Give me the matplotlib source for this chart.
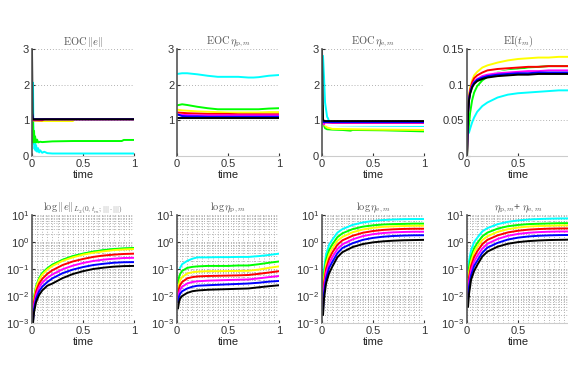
import numpy as np
import matplotlib.pyplot as plt
from matplotlib.ticker import LogLocator, NullFormatter

plt.rcParams['font.family'] = ['Liberation Sans', 'DejaVu Sans']
plt.rcParams['mathtext.fontset'] = 'cm'

nan = np.nan
colors = ['#00ffff', '#00ff00', '#ffff00', '#ff0000', '#ff00ff', '#0000ff', '#000000']

# --- EOC ||e|| (own time grid per series, jagged start) ---
eoc_e_t = [
    [0.01, 0.013, 0.016, 0.02, 0.025, 0.03, 0.035, 0.04, 0.05, 0.06, 0.07, 0.08, 0.1, 0.12, 0.15, 0.2, 0.4, 0.6, 0.8, 1.0],
    [0.0, 0.005, 0.01, 0.015, 0.02, 0.025, 0.03, 0.04, 0.05, 0.06, 0.08, 0.1, 0.2, 0.4, 0.6, 0.8, 0.88, 0.9, 1.0],
    [0.0, 0.01, 0.1, 0.4, 0.42, 1.0],
    [0.0, 0.01, 0.1, 0.12, 1.0],
    [0.0, 0.01, 1.0],
    [0.0, 0.01, 1.0],
    [0.0, 0.006, 1.0],
]
eoc_e_y = [
    [2.05, 0.9, 0.35, 0.55, 0.2, 0.4, 0.15, 0.3, 0.12, 0.22, 0.1, 0.16, 0.09, 0.12, 0.08, 0.07, 0.07, 0.07, 0.07, 0.07],
    [1.0, 0.4, 0.95, 0.38, 0.7, 0.4, 0.55, 0.38, 0.46, 0.38, 0.4, 0.39, 0.41, 0.42, 0.42, 0.42, 0.42, 0.45, 0.45],
    [1.05, 1.0, 0.98, 0.98, 1.03, 1.03],
    [1.1, 1.0, 1.0, 1.03, 1.03],
    [1.2, 1.03, 1.03],
    [1.2, 1.03, 1.03],
    [3.0, 1.03, 1.03],
]

# --- EOC eta_p ---
eoc_p_t = [0, 0.05, 0.1, 0.2, 0.3, 0.4, 0.5, 0.6, 0.7, 0.75, 0.8, 0.9, 1.0]
eoc_p_y = [
    [2.30, 2.32, 2.32, 2.29, 2.25, 2.22, 2.22, 2.22, 2.20, 2.20, 2.21, 2.25, 2.27],
    [1.42, 1.45, 1.43, 1.38, 1.34, 1.31, 1.31, 1.31, 1.31, 1.31, 1.31, 1.33, 1.34],
    [1.30, 1.28, 1.27, 1.25, 1.24, 1.23, 1.22, 1.22, 1.22, 1.22, 1.22, 1.23, 1.23],
    [1.22, 1.21, 1.20, 1.19, 1.18, 1.18, 1.18, 1.17, 1.17, 1.17, 1.17, 1.17, 1.17],
    [1.16, 1.15, 1.15, 1.14, 1.14, 1.14, 1.14, 1.14, 1.14, 1.14, 1.14, 1.14, 1.14],
    [1.17, 1.12, 1.11, 1.11, 1.10, 1.10, 1.10, 1.10, 1.10, 1.10, 1.10, 1.10, 1.10],
    [1.07, 1.07, 1.07, 1.07, 1.07, 1.07, 1.07, 1.07, 1.07, 1.07, 1.07, 1.07, 1.07],
]

# --- EOC eta_e ---
eoc_ee_t = [
    [0.01, 0.02, 0.03, 0.04, 0.05, 0.06, 0.07, 0.08, 0.1, 0.2, 0.5, 1.0],
    [0.005, 0.01, 0.02, 0.03, 0.05, 0.1, 0.2, 0.28, 0.3, 0.6, 1.0],
    [0.005, 0.02, 0.05, 0.1, 0.3, 0.6, 1.0],
    [0.0, 0.02, 1.0],
    [0.0, 0.02, 1.0],
    [0.0, 0.02, 1.0],
    [0.0, 0.01, 0.03, 1.0],
]
eoc_ee_y = [
    [2.8, 2.2, 1.5, 1.3, 1.1, 1.05, 0.95, 0.9, 0.87, 0.86, 0.85, 0.84],
    [1.4, 1.0, 0.85, 0.78, 0.75, 0.74, 0.73, 0.71, 0.73, 0.72, 0.69],
    [0.95, 0.88, 0.8, 0.76, 0.75, 0.74, 0.73],
    [0.95, 0.92, 0.92],
    [0.92, 0.89, 0.89],
    [0.97, 0.95, 0.95],
    [3.0, 1.0, 0.98, 0.98],
]
eoc_ee_white_t = [0.04, 0.1, 0.3, 0.5, 1.0]
eoc_ee_white_y = [0.88, 0.87, 0.87, 0.87, 0.87]

# --- EI(t_m) ---
ei_t = [0, 0.01, 0.02, 0.03, 0.05, 0.07, 0.1, 0.15, 0.2, 0.3, 0.4, 0.5, 0.6, 0.7, 0.8, 0.9, 1.0]
ei_y = [
    [nan, nan, 0.033, 0.038, 0.047, 0.054, 0.062, 0.07, 0.075, 0.082, 0.086, 0.088, 0.089, 0.09, 0.091, 0.092, 0.092],
    [0.0, 0.03, 0.045, 0.06, 0.078, 0.089, 0.098, 0.106, 0.111, 0.117, 0.12, 0.122, 0.124, 0.125, 0.126, 0.126, 0.126],
    [0.0, 0.065, 0.085, 0.095, 0.106, 0.113, 0.118, 0.124, 0.127, 0.131, 0.134, 0.136, 0.137, 0.138, 0.138, 0.139, 0.139],
    [0.0, 0.062, 0.082, 0.092, 0.103, 0.109, 0.113, 0.117, 0.12, 0.122, 0.123, 0.124, 0.125, 0.125, 0.126, 0.126, 0.126],
    [0.0, 0.06, 0.08, 0.089, 0.099, 0.104, 0.108, 0.112, 0.114, 0.116, 0.117, 0.118, 0.119, 0.119, 0.12, 0.12, 0.12],
    [0.0, 0.06, 0.079, 0.088, 0.098, 0.103, 0.107, 0.11, 0.112, 0.114, 0.115, 0.116, 0.116, 0.117, 0.117, 0.117, 0.117],
    [0.0, 0.06, 0.078, 0.087, 0.096, 0.101, 0.105, 0.108, 0.11, 0.112, 0.113, 0.114, 0.114, 0.115, 0.115, 0.115, 0.115],
]
ei_white_y = [nan, nan, nan, nan, nan, nan, nan, nan, 0.113, 0.117, 0.119, 0.12, 0.121, 0.121, 0.121, 0.121, 0.121]

# --- log ||e||_{L2(0,t_m)} ---
err_t = [0.01, 0.02, 0.04, 0.07, 0.1, 0.15, 0.2, 0.3, 0.4, 0.5, 0.6, 0.7, 0.8, 0.9, 1.0]
err_y = [
    [0.0025, 0.009, 0.023, 0.045, 0.069, 0.104, 0.142, 0.216, 0.295, 0.365, 0.43, 0.49, 0.54, 0.57, 0.59],
    [0.0025, 0.009, 0.023, 0.046, 0.07, 0.106, 0.145, 0.22, 0.3, 0.37, 0.44, 0.5, 0.55, 0.58, 0.6],
    [0.0022, 0.008, 0.021, 0.041, 0.062, 0.095, 0.13, 0.2, 0.27, 0.34, 0.4, 0.45, 0.5, 0.53, 0.55],
    [0.0018, 0.006, 0.015, 0.029, 0.043, 0.066, 0.09, 0.14, 0.19, 0.235, 0.28, 0.315, 0.34, 0.36, 0.37],
    [0.0015, 0.0045, 0.011, 0.021, 0.031, 0.047, 0.063, 0.098, 0.133, 0.167, 0.198, 0.222, 0.24, 0.255, 0.26],
    [0.0012, 0.0033, 0.008, 0.015, 0.022, 0.033, 0.045, 0.07, 0.095, 0.118, 0.14, 0.156, 0.17, 0.178, 0.18],
    [0.001, 0.0025, 0.006, 0.011, 0.016, 0.024, 0.029, 0.046, 0.065, 0.083, 0.1, 0.112, 0.122, 0.128, 0.13],
]

# --- log eta_p ---
etap_t = [0.01, 0.02, 0.03, 0.05, 0.1, 0.15, 0.2, 0.3, 0.4, 0.5, 0.6, 0.7, 0.8, 0.9, 1.0]
etap_y = [
    [nan, nan, 0.11, 0.15, 0.2, 0.24, 0.27, 0.27, 0.275, 0.275, 0.28, 0.28, 0.3, 0.33, 0.37],
    [0.03, 0.05, 0.065, 0.085, 0.11, 0.12, 0.125, 0.13, 0.13, 0.13, 0.135, 0.135, 0.15, 0.17, 0.19],
    [0.015, 0.028, 0.038, 0.05, 0.068, 0.076, 0.08, 0.083, 0.083, 0.084, 0.085, 0.086, 0.095, 0.11, 0.125],
    [0.01, 0.019, 0.025, 0.033, 0.045, 0.05, 0.053, 0.055, 0.056, 0.057, 0.058, 0.06, 0.066, 0.074, 0.083],
    [0.008, 0.013, 0.017, 0.022, 0.029, 0.033, 0.035, 0.037, 0.038, 0.039, 0.04, 0.041, 0.045, 0.05, 0.055],
    [0.006, 0.0095, 0.012, 0.015, 0.019, 0.022, 0.024, 0.025, 0.026, 0.027, 0.028, 0.029, 0.031, 0.034, 0.036],
    [0.0035, 0.006, 0.008, 0.01, 0.013, 0.015, 0.016, 0.017, 0.0175, 0.018, 0.0185, 0.019, 0.021, 0.023, 0.025],
]

# --- log eta_e ---
etae_t = [0.01, 0.02, 0.04, 0.07, 0.1, 0.15, 0.2, 0.3, 0.4, 0.5, 0.6, 0.7, 0.8, 0.9, 1.0]
etae_y = [
    [0.03, 0.1, 0.35, 0.8, 1.2, 2.2, 3.0, 4.3, 5.3, 6.0, 6.5, 6.8, 7.0, 7.1, 7.1],
    [0.02, 0.065, 0.22, 0.5, 0.8, 1.5, 2.1, 3.0, 3.7, 4.15, 4.45, 4.6, 4.7, 4.8, 4.8],
    [0.012, 0.045, 0.15, 0.35, 0.58, 1.1, 1.55, 2.3, 2.9, 3.35, 3.65, 3.8, 3.9, 4.0, 4.0],
    [0.008, 0.03, 0.1, 0.24, 0.4, 0.78, 1.15, 1.7, 2.2, 2.55, 2.8, 2.95, 3.05, 3.1, 3.1],
    [0.005, 0.02, 0.07, 0.16, 0.27, 0.54, 0.82, 1.25, 1.65, 1.95, 2.15, 2.28, 2.35, 2.4, 2.4],
    [0.003, 0.013, 0.045, 0.11, 0.18, 0.38, 0.6, 0.9, 1.2, 1.42, 1.57, 1.67, 1.73, 1.77, 1.78],
    [0.002, 0.008, 0.03, 0.07, 0.12, 0.27, 0.42, 0.65, 0.84, 0.97, 1.06, 1.12, 1.16, 1.18, 1.2],
]

# --- eta_p + eta_e ---
tot_t = [0.01, 0.02, 0.04, 0.07, 0.1, 0.15, 0.2, 0.3, 0.4, 0.5, 0.6, 0.7, 0.8, 0.9, 1.0]
tot_y = [
    [0.1, 0.2, 0.5, 1.0, 1.42, 2.47, 3.27, 4.57, 5.58, 6.28, 6.78, 7.08, 7.3, 7.43, 7.47],
    [0.05, 0.115, 0.29, 0.59, 0.91, 1.62, 2.22, 3.13, 3.83, 4.28, 4.59, 4.74, 4.85, 4.97, 4.99],
    [0.027, 0.073, 0.19, 0.42, 0.65, 1.18, 1.63, 2.38, 2.98, 3.43, 3.74, 3.89, 4.0, 4.11, 4.13],
    [0.018, 0.05, 0.13, 0.28, 0.45, 0.83, 1.2, 1.76, 2.26, 2.61, 2.86, 3.01, 3.12, 3.17, 3.18],
    [0.012, 0.033, 0.09, 0.19, 0.3, 0.57, 0.86, 1.29, 1.69, 1.99, 2.19, 2.32, 2.4, 2.45, 2.46],
    [0.008, 0.022, 0.058, 0.13, 0.2, 0.4, 0.62, 0.93, 1.23, 1.45, 1.6, 1.7, 1.76, 1.8, 1.82],
    [0.004, 0.012, 0.04, 0.085, 0.14, 0.29, 0.44, 0.67, 0.86, 0.99, 1.08, 1.14, 1.18, 1.2, 1.22],
]

titles = [r'$\mathrm{EOC}\,\|e\|$', r'$\mathrm{EOC}\,\eta_{\mathrm{p},m}$',
          r'$\mathrm{EOC}\,\eta_{\mathrm{e},m}$', r'$\mathrm{EI}(t_m)$',
          r'$\log\|e\|_{L_2(0,t_m;|||\cdot|||)}$', r'$\log\eta_{\mathrm{p},m}$',
          r'$\log\eta_{\mathrm{e},m}$', r'$\eta_{\mathrm{p},m}$+ $\eta_{\mathrm{e},m}$']

W, H = 568, 366
fig = plt.figure(figsize=(W / 100, H / 100), dpi=100)
col_x = [32, 177, 322, 467]
axes = []
for row, (top, bot) in enumerate([(49, 156), (215, 323)]):
    for c in range(4):
        ax = fig.add_axes([col_x[c] / W, 1 - bot / H, 102 / W, (bot - top) / H])
        axes.append(ax)

LW = 1.4
DOT = (0, (1, 2.5))

def style(ax, title, log=False, last_col=False):
    for s in ['top', 'right']:
        ax.spines[s].set_visible(False)
    ax.spines['left'].set_color('#555555')
    ax.spines['left'].set_linewidth(1.2)
    ax.spines['bottom'].set_color('#cccccc')
    ax.spines['bottom'].set_linewidth(0.8)
    ax.tick_params(labelsize=8, length=2, direction='in', colors='#333333', pad=2)
    ax.set_xlim(0, 1)
    ax.set_xticks([0, 0.5, 1])
    # the rightmost column runs past the figure edge, its "1" is not shown
    ax.set_xticklabels(['0', '0.5', '' if last_col else '1'])
    ax.set_xlabel('time', fontsize=8, labelpad=1, color='#222222')
    ax.set_title(title, fontsize=7.5, color='#555555', pad=3)
    if log:
        ax.set_yscale('log')
        ax.set_ylim(1e-3, 1e1)
        ax.yaxis.set_major_locator(LogLocator(base=10, numticks=10))
        ax.yaxis.set_minor_locator(LogLocator(base=10, subs=np.arange(2, 10), numticks=10))
        ax.yaxis.set_minor_formatter(NullFormatter())
        ax.set_xticks(np.arange(0, 1.001, 0.05), minor=True)
        ax.grid(True, which='both', linestyle=DOT, color='#888888', linewidth=0.55)
        ax.tick_params(which='minor', length=0)
    else:
        ax.grid(True, axis='y', linestyle=DOT, color='#999999', linewidth=0.6)
    ax.set_axisbelow(True)

# row 1
ax = axes[0]
for t, y, c in zip(eoc_e_t, eoc_e_y, colors):
    ax.plot(t, y, color=c, lw=LW)
ax.set_ylim(0, 3)
ax.set_yticks([0, 1, 2, 3])
style(ax, titles[0])

ax = axes[1]
for y, c in zip(eoc_p_y, colors):
    ax.plot(eoc_p_t, y, color=c, lw=LW)
ax.set_ylim(0, 3)
ax.set_yticks([1, 2, 3])
style(ax, titles[1])

ax = axes[2]
for i, (t, y, c) in enumerate(zip(eoc_ee_t, eoc_ee_y, colors)):
    ax.plot(t, y, color=c, lw=LW)
    if i == 5:
        ax.plot(eoc_ee_white_t, eoc_ee_white_y, color='white', lw=LW)
ax.set_ylim(0, 3)
ax.set_yticks([0, 1, 2, 3])
style(ax, titles[2])

ax = axes[3]
for i, (y, c) in enumerate(zip(ei_y, colors)):
    ax.plot(ei_t, y, color=c, lw=LW)
    if i == 3:
        ax.plot(ei_t, ei_white_y, color='white', lw=LW)
ax.set_ylim(0, 0.15)
ax.set_yticks([0, 0.05, 0.1, 0.15])
ax.set_yticklabels(['0', '0.05', '0.1', '0.15'])
style(ax, titles[3], last_col=True)

# row 2
for k, (ax, t, ys, title) in enumerate(zip(axes[4:], [err_t, etap_t, etae_t, tot_t],
                                           [err_y, etap_y, etae_y, tot_y], titles[4:])):
    for y, c in zip(ys, colors):
        ax.plot(t, y, color=c, lw=LW)
    style(ax, title, log=True, last_col=(k == 3))

fig.savefig('out.png', dpi=100)
